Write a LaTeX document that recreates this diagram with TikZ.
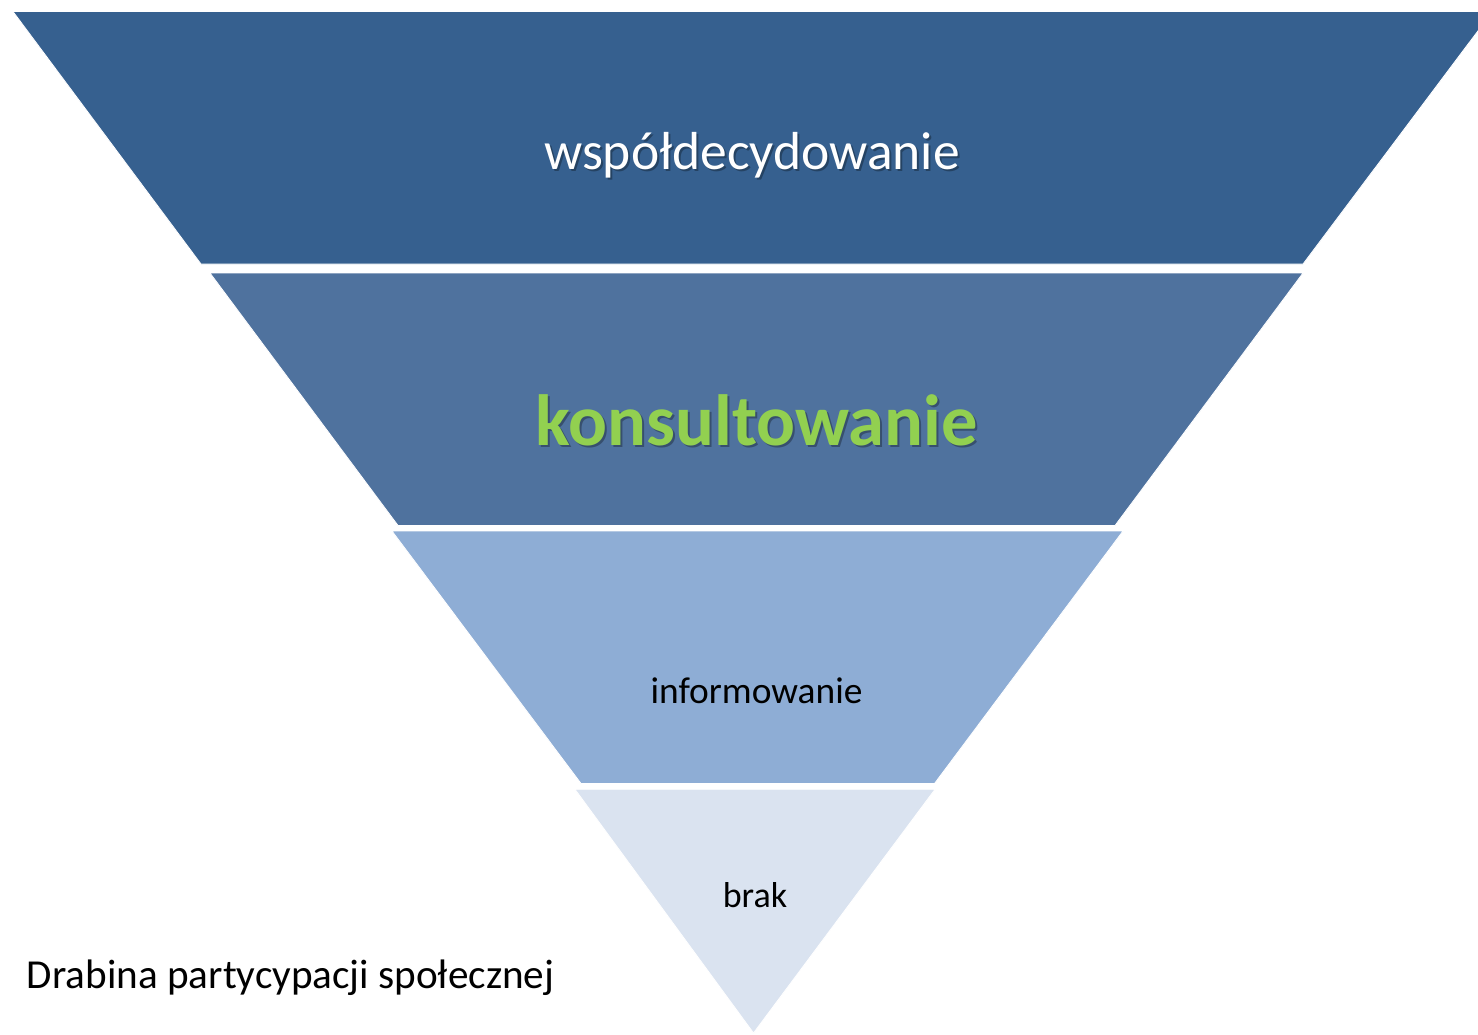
\documentclass[tikz,border=0pt]{standalone}
\usepackage{fontspec}
\setmainfont{Carlito}
\definecolor{lvA}{RGB}{54,96,143}
\definecolor{lvB}{RGB}{79,114,158}
\definecolor{lvC}{RGB}{142,173,213}
\definecolor{lvD}{RGB}{218,227,240}
\definecolor{okgreen}{RGB}{146,208,80}
\tikzset{
  layer/.style={draw=white, line width=0.8pt, line join=miter},
  lbl/.style={anchor=base, inner sep=0pt, outer sep=0pt},
  shade/.style={lbl, text=black, text opacity=0.3},
}
\begin{document}
\begin{tikzpicture}[x=1pt, y=-1pt]
\useasboundingbox (0,0) rectangle (1478,1035);
\clip (0,0) rectangle (1478,1035);
\fill[white] (0,0) rectangle (1478,1035);
% layers
\filldraw[layer, fill=lvA] (13,11.5) -- (1492.5,11.5) -- (1303,264) -- (201,264) -- cycle;
\filldraw[layer, fill=lvB] (210,273) -- (1303,273) -- (1115,525.5) -- (398,525.5) -- cycle;
\filldraw[layer, fill=lvC] (392,531) -- (1123,531) -- (934.5,783.5) -- (581,783.5) -- cycle;
\filldraw[layer, fill=lvD] (575,789.3) -- (935,789.3) -- (753.5,1033) -- cycle;
% labels
\node[shade, font=\fontsize{53.5}{60}\selectfont] (t1s) at (754,172) {współdecydowanie};
\node[lbl, text=white, font=\fontsize{53.5}{60}\selectfont] (t1) at (752,170) {współdecydowanie};
\node[shade, font=\fontsize{72.5}{80}\selectfont\bfseries] (t2s) at (758.5,447) {konsultowanie};
\node[lbl, text=okgreen, font=\fontsize{72.5}{80}\selectfont\bfseries] (t2) at (756.5,445) {konsultowanie};
\node[lbl, text=black, font=\fontsize{37.4}{42}\selectfont] (t3) at (756.5,703) {informowanie};
\node[lbl, text=black, font=\fontsize{36}{40}\selectfont] (t4) at (755,907) {brak};
\node[lbl, anchor=base west, text=black, font=\fontsize{41.2}{46}\selectfont] (cap) at (27,988) {Drabina partycypacji społecznej};
\end{tikzpicture}
\end{document}
